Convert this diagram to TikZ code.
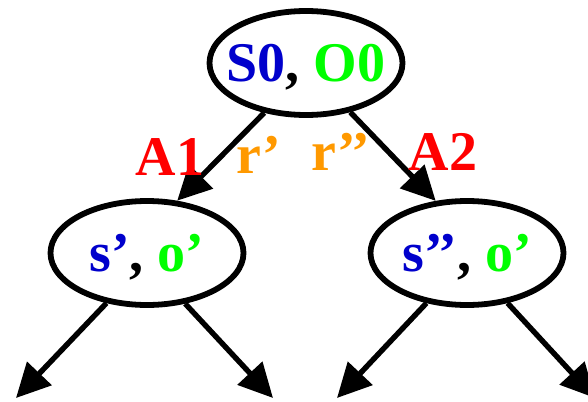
\documentclass[tikz,border=0pt]{standalone}
\usepackage{fontspec}
\setmainfont{Liberation Serif}
\usepackage{tikz}
\usepackage{xcolor}
\usetikzlibrary{positioning, arrows.meta, shapes.geometric}
\definecolor{State_Blue}{HTML}{0000CC}
\definecolor{Obs_Green}{HTML}{00FF00}
\definecolor{Act_Red}{HTML}{FF0000}
\definecolor{Rew_Orange}{HTML}{FF9900}

\begin{document}
\begin{tikzpicture}[x=0.5pt, y=-0.5pt,
  every node/.style={font=\fontsize{28}{30}\selectfont\bfseries},
  arr/.style={-{Triangle[length=17pt, width=16.5pt]}, line width=2.7pt},
  state/.style={ellipse, draw, line width=2.9pt, minimum width=96.5pt,
    minimum height=52pt, inner xsep=-14pt, inner ysep=0pt, text depth=0pt},
  lbl/.style={text=#1, anchor=base, inner sep=0pt},
  lbl/.default={Act_Red}
]
  \useasboundingbox (0,0) rectangle (588,401);

  % Root belief node
  \node[state] (root) at (306,63)
    {\textcolor{State_Blue}{S0}, \textcolor{Obs_Green}{O0}};

  % Children after each action
  \node[state] (sa) at (147,253)
    {\textcolor{State_Blue}{s’}, \textcolor{Obs_Green}{o’}};
  \node[state] (sb) at (467,253)
    {\textcolor{State_Blue}{s’’}, \textcolor{Obs_Green}{o’}};

  % Actions from the root
  \draw[arr] (root.230) -- (sa.60);
  \draw[arr] (root.312) -- (sb.121);

  % Action and reward labels
  \node[lbl] (a1) at (170,175) {A1};
  \node[lbl=Rew_Orange] (r1) at (259,173) {r’};
  \node[lbl=Rew_Orange] (r2) at (341,170) {r’’};
  \node[lbl] (a2) at (443,170) {A2};

  % Open branches below
  \coordinate (saL) at (16,398);
  \coordinate (saR) at (273,398);
  \coordinate (sbL) at (337,398);
  \coordinate (sbR) at (595,398);
  \draw[arr] (sa.231) -- (saL);
  \draw[arr] (sa.307) -- (saR);
  \draw[arr] (sb.231) -- (sbL);
  \draw[arr] (sb.309) -- (sbR);
\end{tikzpicture}
\end{document}
